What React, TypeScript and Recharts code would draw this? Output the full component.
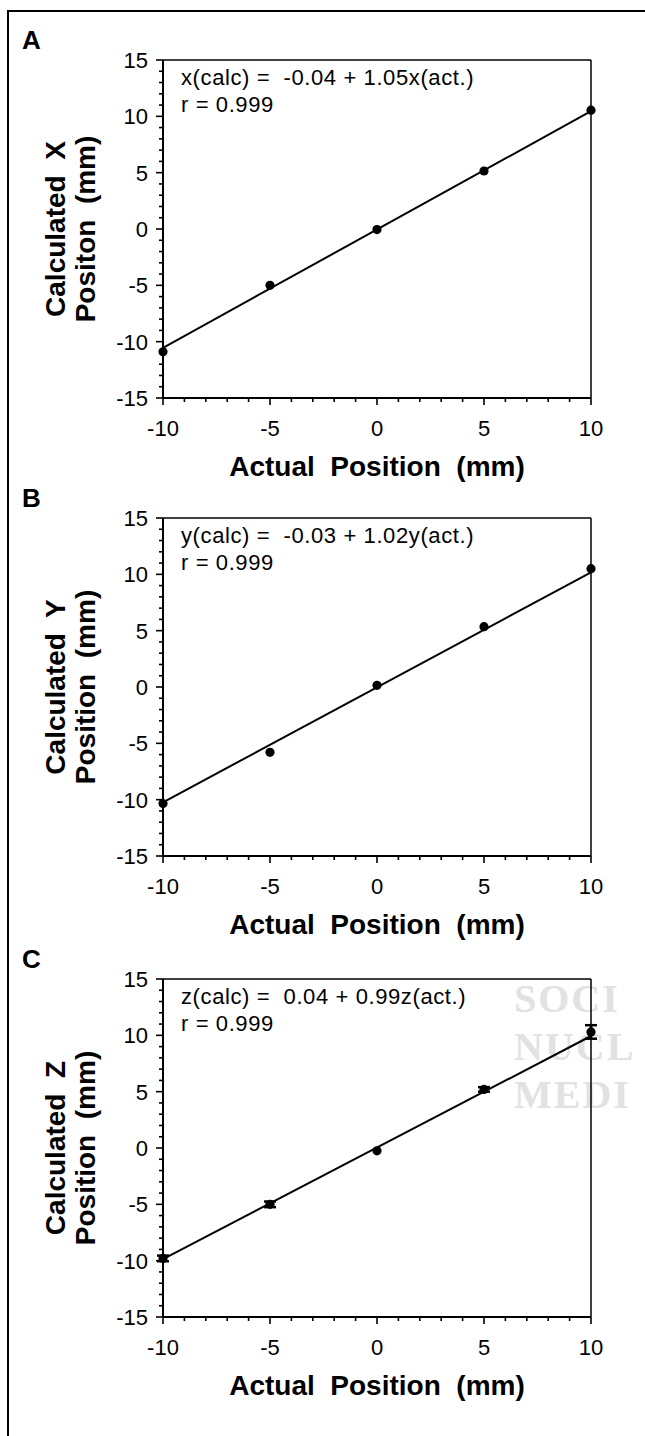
import React from 'react';
import { ScatterChart, Scatter, XAxis, YAxis, ReferenceLine, ErrorBar } from 'recharts';

const FONT = '"Liberation Sans", Arial, Helvetica, sans-serif';

// ---- data ----
const actualPosition = [-10, -5, 0, 5, 10];
const calculatedX = [-10.9, -5.0, -0.05, 5.15, 10.55];
const calculatedY = [-10.35, -5.8, 0.15, 5.35, 10.5];
const calculatedZ = [-9.8, -5.0, -0.25, 5.2, 10.3];
const errorX = [0, 0, 0, 0, 0];
const errorY = [0, 0, 0, 0, 0];
const errorZ = [0.25, 0.25, 0, 0.2, 0.6];
const fitEnds = [-10, 10];
const fitX = [-10.54, 10.46];
const fitY = [-10.23, 10.17];
const fitZ = [-9.86, 9.94];

const xTicks = [-10, -9, -8, -7, -6, -5, -4, -3, -2, -1, 0, 1, 2, 3, 4, 5, 6, 7, 8, 9, 10];
const yTicks = [-15, -14, -13, -12, -11, -10, -9, -8, -7, -6, -5, -4, -3, -2, -1, 0, 1, 2, 3, 4, 5, 6, 7, 8, 9, 10, 11, 12, 13, 14, 15];
const xMajor = [-10, -5, 0, 5, 10];
const yMajor = [-15, -10, -5, 0, 5, 10, 15];

const panelLetters = ['A', 'B', 'C'];
const yTitleLine1 = ['Calculated  X', 'Calculated  Y', 'Calculated  Z'];
const yTitleLine2 = ['Positon  (mm)', 'Position  (mm)', 'Position  (mm)'];
const xTitle = 'Actual  Position  (mm)';
const equations = ['x(calc) =  -0.04 + 1.05x(act.)', 'y(calc) =  -0.03 + 1.02y(act.)', 'z(calc) =  0.04 + 0.99z(act.)'];
const rValues = ['r = 0.999', 'r = 0.999', 'r = 0.999'];
const watermark = ['SOCI', 'NUCL', 'MEDI'];

const series = [calculatedX, calculatedY, calculatedZ];
const errors = [errorX, errorY, errorZ];
const fits = [fitX, fitY, fitZ];

// ---- layout ----
const W = 645;
const H = 480;
const PLOT_TOP = 60;
const PLOT_H = 338;
const AXIS_W = 163;
const MR = 54;
const XAXIS_H = H - PLOT_TOP - PLOT_H;
const panelTops = [0, 458, 919];
const PLOT_L = AXIS_W;
const PLOT_R = W - MR;

const XTick = (p: any) => {
  const { x, y, payload } = p;
  const v = payload.value;
  const major = xMajor.includes(v);
  return (
    <g>
      <line x1={x} x2={x} y1={y} y2={y + (major ? 7 : 4)} stroke="#000" strokeWidth={1.6} />
      {major && (
        <text x={x} y={y + 38} textAnchor="middle" fontSize={22} fontFamily={FONT} fill="#000">
          {String(v)}
        </text>
      )}
    </g>
  );
};

const YTick = (p: any) => {
  const { x, y, payload } = p;
  const v = payload.value;
  const major = yMajor.includes(v);
  return (
    <g>
      <line x1={x} x2={x - (major ? 7 : 4)} y1={y} y2={y} stroke="#000" strokeWidth={1.6} />
      {major && (
        <text x={x - 15} y={y + 8} textAnchor="end" fontSize={22} fontFamily={FONT} fill="#000">
          {String(v)}
        </text>
      )}
    </g>
  );
};

const Dot = (p: any) => <circle cx={p.cx} cy={p.cy} r={4.6} fill="#000" />;
const Empty = () => <g />;

function Panel({ idx }: { idx: number }) {
  const pts = actualPosition.map((x, i) => ({ x, y: series[idx][i], err: errors[idx][i] }));
  const fit = fitEnds.map((x, i) => ({ x, y: fits[idx][i] }));
  return (
    <div style={{ position: 'absolute', left: 0, top: panelTops[idx], width: W, height: H }}>
      <ScatterChart width={W} height={H} margin={{ top: PLOT_TOP, right: MR, bottom: 0, left: 0 }}>
        <XAxis
          type="number"
          dataKey="x"
          domain={[-10, 10]}
          ticks={xTicks}
          interval={0}
          tick={(p: any) => <XTick {...p} />}
          tickLine={false}
          tickSize={0}
          tickMargin={0}
          axisLine={{ stroke: '#000', strokeWidth: 2 }}
          height={XAXIS_H}
        />
        <YAxis
          type="number"
          dataKey="y"
          domain={[-15, 15]}
          ticks={yTicks}
          interval={0}
          tick={(p: any) => <YTick {...p} />}
          tickLine={false}
          tickSize={0}
          tickMargin={0}
          axisLine={{ stroke: '#000', strokeWidth: 2 }}
          width={AXIS_W}
        />
        <ReferenceLine y={15} stroke="#000" strokeWidth={1.5} />
        <ReferenceLine x={10} stroke="#000" strokeWidth={1.5} />
        <Scatter data={fit} line={{ stroke: '#000', strokeWidth: 2 }} shape={Empty} isAnimationActive={false} />
        <Scatter data={pts} fill="#000" shape={Dot} isAnimationActive={false}>
          {idx === 2 && <ErrorBar dataKey="err" direction="y" width={6} stroke="#000" strokeWidth={2.5} />}
        </Scatter>
      </ScatterChart>
    </div>
  );
}

export default function App() {
  return (
    <div style={{ position: 'absolute', left: 0, top: 0, width: 645, height: 1436, overflow: 'hidden', background: '#fff' }}>
      {/* faint publisher watermark */}
      <svg width={645} height={1436} style={{ position: 'absolute', left: 0, top: 0 }}>
        <g fill="#e2e2e2" fontFamily='"Liberation Serif", "DejaVu Serif", serif' fontWeight="bold" fontSize={40} letterSpacing={2}>
          <text x={514} y={1012}>{watermark[0]}</text>
          <text x={514} y={1060}>{watermark[1]}</text>
          <text x={514} y={1108}>{watermark[2]}</text>
        </g>
      </svg>
      {panelTops.map((_, i) => (
        <Panel key={i} idx={i} />
      ))}
      <svg width={645} height={1436} style={{ position: 'absolute', left: 0, top: 0, pointerEvents: 'none' }}>
        <path d="M 8 1436 V 11 H 645" fill="none" stroke="#000" strokeWidth={2} />
        {panelTops.map((top, i) => {
          const pt = top + PLOT_TOP;
          const pb = pt + PLOT_H;
          const cy = pt + PLOT_H / 2;
          return (
            <g key={i} fontFamily={FONT} fill="#000">
              <text x={22} y={pt - 11} fontSize={26} fontWeight="bold">{panelLetters[i]}</text>
              <text transform={`translate(65 ${cy}) rotate(-90)`} textAnchor="middle" fontSize={28} fontWeight="bold" style={{ whiteSpace: 'pre' }}>
                {yTitleLine1[i]}
              </text>
              <text transform={`translate(95 ${cy}) rotate(-90)`} textAnchor="middle" fontSize={28} fontWeight="bold" style={{ whiteSpace: 'pre' }}>
                {yTitleLine2[i]}
              </text>
              <text x={(PLOT_L + PLOT_R) / 2} y={pb + 78} textAnchor="middle" fontSize={28} fontWeight="bold" style={{ whiteSpace: 'pre' }}>
                {xTitle}
              </text>
              <text x={181} y={pt + 25} fontSize={22} letterSpacing={0.6} style={{ whiteSpace: 'pre' }}>{equations[i]}</text>
              <text x={181} y={pt + 52} fontSize={22} letterSpacing={0.6}>{rValues[i]}</text>
            </g>
          );
        })}
      </svg>
    </div>
  );
}
